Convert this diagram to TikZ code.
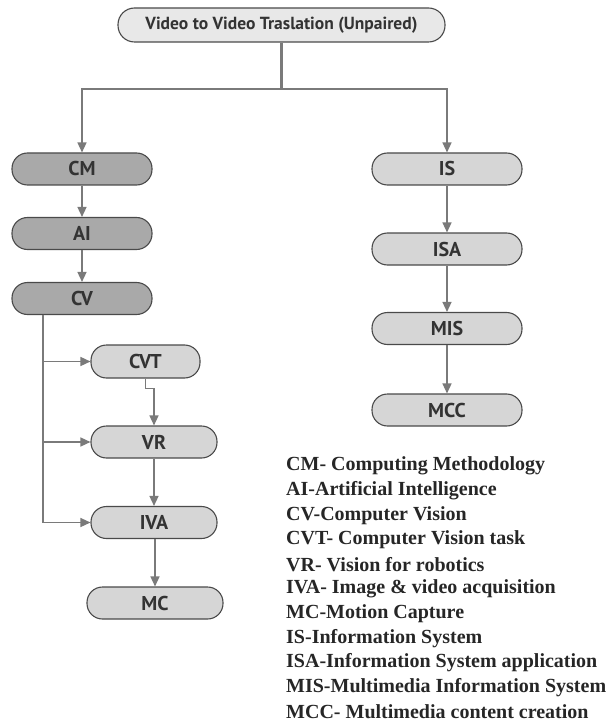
\documentclass[tikz,border=0pt]{standalone}
\usepackage{fontspec}
\setmainfont{Liberation Serif}
\newfontfamily\boxfont{PT Sans}
\usetikzlibrary{arrows.meta}
\definecolor{linegray}{HTML}{7A7A7A}
\definecolor{edgegray}{HTML}{4A4A4A}
\definecolor{darkfill}{HTML}{A9A9A9}
\definecolor{lightfill}{HTML}{D6D6D6}
\definecolor{topfill}{HTML}{E8E8E8}
\tikzset{
  pill/.style={draw=edgegray, line width=1.1pt, rectangle, rounded corners=15.5pt,
    minimum height=32pt, inner sep=0pt, font=\boxfont\bfseries\fontsize{20}{22}\selectfont, text=black!80},
  darkpill/.style={pill, fill=darkfill},
  lightpill/.style={pill, fill=lightfill},
  conn/.style={draw=linegray, line width=1.4pt},
  arr/.style={conn, -{Triangle[width=9pt,length=10pt]}, color=linegray},
  legend/.style={anchor=west, inner sep=0pt, font=\bfseries\fontsize{20}{22}\selectfont, text=black!85}
}
\begin{document}
\begin{tikzpicture}[x=1pt,y=-1pt]
\useasboundingbox (0,0) rectangle (610,727);

% root
\node[pill, fill=topfill, minimum width=327pt, minimum height=34pt, rounded corners=16.5pt,
      font=\boxfont\bfseries\fontsize{17.5}{19}\selectfont] (top) at (281.5,25) {Video to Video Traslation (Unpaired)};

% left branch
\node[darkpill, minimum width=140pt] (CM) at (82,169) {CM};
\node[darkpill, minimum width=140pt] (AI) at (82,233.5) {AI};
\node[darkpill, minimum width=140pt] (CV) at (82,298.5) {CV};
\node[lightpill, minimum width=109pt, minimum height=33pt] (CVT) at (145.5,361.5) {CVT};
\node[lightpill, minimum width=126pt] (VR) at (154,442) {VR};
\node[lightpill, minimum width=126pt] (IVA) at (154,522.5) {IVA};
\node[lightpill, minimum width=136pt] (MC) at (155,603) {MC};

% right branch
\node[lightpill, minimum width=150pt] (IS) at (447,169) {IS};
\node[lightpill, minimum width=150pt] (ISA) at (447,249) {ISA};
\node[lightpill, minimum width=150pt] (MIS) at (447,328.5) {MIS};
\node[lightpill, minimum width=150pt] (MCC) at (447,410) {MCC};

% split below the root
\coordinate (j) at (281.5,89);
\draw[conn, line width=2.4pt] (top.south) -- (j);
\draw[conn, line width=2.6pt] (j) -- ++(31,0);
\draw[arr] (j) -| (CM.north);
\draw[arr] (j) -| (IS.north);

% left chain
\draw[arr] (CM) -- (AI);
\draw[arr] (AI) -- (CV);
\coordinate (b0) at (43,314.5);
\draw[arr] (b0) |- (CVT.west);
\draw[arr] (b0) |- (VR.west);
\draw[arr] (b0) |- (IVA.west);
\draw[arr] (CVT.south) -- ++(0,10) -| (VR.north);
\draw[arr] (VR) -- (IVA);
\draw[arr] (IVA.south -| MC.north) -- (MC.north);

% right chain
\draw[arr] (IS) -- (ISA);
\draw[arr] (ISA) -- (MIS);
\draw[arr] (MIS) -- (MCC);

% legend
\foreach \t [count=\i from 0] in {
  CM- Computing Methodology,
  AI-Artificial Intelligence,
  CV-Computer Vision,
  CVT- Computer Vision task,
  VR- Vision for robotics,
  IVA- Image \& video acquisition,
  MC-Motion Capture,
  IS-Information System,
  ISA-Information System application,
  MIS-Multimedia Information System,
  MCC- Multimedia content creation}
  \node[legend] (leg\i) at (286, 466+24.6*\i) {\t};
\end{tikzpicture}
\end{document}
